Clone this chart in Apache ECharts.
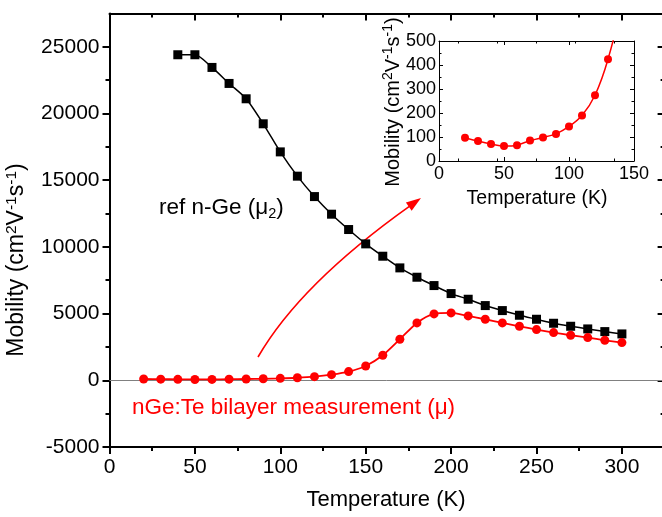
<!DOCTYPE html>
<html><head><meta charset="utf-8">
<script src="https://cdn.jsdelivr.net/npm/echarts@6/dist/echarts.min.js"></script>
<style>html,body{margin:0;padding:0;background:#fff}#c{width:662px;height:517px}</style>
</head><body><div id="c"></div>
<script>
const FONT = "'Liberation Sans', Arial, sans-serif";

// ---- data ----
const temperature = [20,30,40,50,60,70,80,90,100,110,120,130,140,150,160,170,180,190,200,210,220,230,240,250,260,270,280,290,300];
const bilayerMobility = [97,83,71,62,66,85,98,113,144,190,274,424,650,1075,1875,3075,4300,4975,5050,4825,4575,4300,4050,3800,3575,3375,3200,3000,2825];
const refTemperature = [40,50,60,70,80,90,100,110,120,130,140,150,160,170,180,190,200,210,220,230,240,250,260,270,280,290,300];
const refMobility = [24400,24400,23450,22250,21100,19225,17120,15300,13770,12450,11300,10225,9300,8425,7725,7100,6500,6075,5600,5225,4875,4575,4275,4050,3850,3650,3475];

const xMajorTicks = [0,50,100,150,200,250,300];
const xMinorTicks = [25,75,125,175,225,275];
const yMajorTicks = [-5000,0,5000,10000,15000,20000,25000];
const yMinorTicks = [-2500,2500,7500,12500,17500,22500];
const insetXTicks = [0,50,100,150];
const insetYTicks = [0,100,200,300,400,500];

const pairs = (xs, ys) => xs.map((x, i) => [x, ys[i]]);

const chart = echarts.init(document.getElementById('c'), null, {renderer: 'canvas'});

function mkAxis(o) {
  const base = {
    type: 'value', gridIndex: o.grid, position: o.pos, min: o.min, max: o.max,
    axisLine: {show: !!o.line, onZero: false, lineStyle: {color: '#000', width: o.lw}},
    axisTick: {show: true, inside: o.inside, length: o.len, customValues: o.ticks,
               lineStyle: {color: '#000', width: o.tw}},
    axisLabel: o.label ? {show: true, customValues: o.ticks, margin: o.margin,
               fontSize: o.fs, color: '#000', fontFamily: FONT,
               formatter: v => String(v)} : {show: false},
    splitLine: {show: false}, minorSplitLine: {show: false}
  };
  if (o.minor) base.minorTick = {show: true, splitNumber: 2, length: o.minorLen, lineStyle: {color: '#000', width: o.tw}};
  return base;
}

const richMain = {
  n: {fontSize: 23, fontFamily: FONT, lineHeight: 27, fill: '#000'},
  s: {fontSize: 15.5, fontFamily: FONT, lineHeight: 15, verticalAlign: 'top', fill: '#000'}
};
const richInset = {
  n: {fontSize: 20, fontFamily: FONT, lineHeight: 24, fill: '#000'},
  s: {fontSize: 14, fontFamily: FONT, lineHeight: 14, verticalAlign: 'top', fill: '#000'}
};
const mobilityTitle = '{n|Mobility (cm}{s|2}{n|V}{s|-1}{n|s}{s|-1}{n|)}';

// arrow geometry (annotation)
const aS = [258, 357], aC = [300, 284], aE = [421, 198];
const dx = aE[0] - aC[0], dy = aE[1] - aC[1], dl = Math.hypot(dx, dy);
const ux = dx / dl, uy = dy / dl, hl = 15, hw = 5;
const bx = aE[0] - ux * hl, by = aE[1] - uy * hl;

chart.setOption({
  animation: false,
  backgroundColor: '#fff',
  grid: [
    {left: 109.5, top: 13.4, right: -2.6, bottom: 70, outerBoundsMode: 'none', containLabel: false},
    {left: 439, top: 41, width: 195, height: 120, outerBoundsMode: 'none', containLabel: false}
  ],
  xAxis: [
    mkAxis({grid: 0, pos: 'bottom', min: 0, max: 325, line: true, lw: 2, inside: false, len: 7, tw: 2, ticks: xMajorTicks, label: true, margin: 10, fs: 21}),
    mkAxis({grid: 0, pos: 'bottom', min: 0, max: 325, line: false, lw: 2, inside: false, len: 4, tw: 2, ticks: xMinorTicks}),
    mkAxis({grid: 0, pos: 'top', min: 0, max: 325, line: true, lw: 2, inside: true, len: 7, tw: 2, ticks: xMajorTicks}),
    mkAxis({grid: 0, pos: 'top', min: 0, max: 325, line: false, lw: 2, inside: true, len: 4, tw: 2, ticks: xMinorTicks}),
    mkAxis({grid: 1, pos: 'bottom', min: 0, max: 150, line: true, lw: 1, inside: true, len: 4, tw: 1, ticks: insetXTicks, label: true, margin: 4, fs: 18, minor: true, minorLen: 2.5}),
    mkAxis({grid: 1, pos: 'top', min: 0, max: 150, line: true, lw: 1, inside: true, len: 4, tw: 1, ticks: insetXTicks, minor: true, minorLen: 2.5})
  ],
  yAxis: [
    mkAxis({grid: 0, pos: 'left', min: -5000, max: 27500, line: true, lw: 2, inside: false, len: 7, tw: 2, ticks: yMajorTicks, label: true, margin: 10, fs: 21}),
    mkAxis({grid: 0, pos: 'left', min: -5000, max: 27500, line: false, lw: 2, inside: false, len: 4, tw: 2, ticks: yMinorTicks}),
    mkAxis({grid: 0, pos: 'right', min: -5000, max: 27500, line: true, lw: 2, inside: true, len: 7, tw: 2, ticks: yMajorTicks}),
    mkAxis({grid: 0, pos: 'right', min: -5000, max: 27500, line: false, lw: 2, inside: true, len: 4, tw: 2, ticks: yMinorTicks}),
    mkAxis({grid: 1, pos: 'left', min: 0, max: 500, line: true, lw: 1, inside: true, len: 4, tw: 1, ticks: insetYTicks, label: true, margin: 3, fs: 18, minor: true, minorLen: 2.5}),
    mkAxis({grid: 1, pos: 'right', min: 0, max: 500, line: true, lw: 1, inside: true, len: 4, tw: 1, ticks: insetYTicks, minor: true, minorLen: 2.5})
  ],
  series: [
    {
      name: 'ref n-Ge', type: 'line', xAxisIndex: 0, yAxisIndex: 0,
      data: pairs(refTemperature, refMobility), smooth: 0.25,
      symbol: 'rect', symbolSize: 9, z: 4,
      lineStyle: {color: '#000', width: 1.5}, itemStyle: {color: '#000'},
      markLine: {silent: true, symbol: 'none', label: {show: false}, animation: false,
        lineStyle: {color: '#808080', width: 1, type: 'solid'}, data: [{yAxis: 0}]}
    },
    {
      name: 'nGe:Te bilayer', type: 'line', xAxisIndex: 0, yAxisIndex: 0,
      data: pairs(temperature, bilayerMobility), smooth: 0.25,
      symbol: 'circle', symbolSize: 9, z: 5,
      lineStyle: {color: '#ff0000', width: 1.8}, itemStyle: {color: '#ff0000'}
    },
    {
      name: 'inset', type: 'line', xAxisIndex: 4, yAxisIndex: 4, clip: true,
      data: pairs(temperature, bilayerMobility), smooth: 0.25,
      symbol: 'circle', symbolSize: 8, z: 5,
      lineStyle: {color: '#ff0000', width: 1.5}, itemStyle: {color: '#ff0000'}
    }
  ],
  graphic: [
    {type: 'bezierCurve', z: 1, shape: {x1: aS[0], y1: aS[1], cpx1: aC[0], cpy1: aC[1], x2: bx + ux * 2, y2: by + uy * 2},
     style: {stroke: '#ff0000', lineWidth: 1.6, fill: null}},
    {type: 'polygon', z: 1, shape: {points: [[aE[0], aE[1]], [bx - uy * hw, by + ux * hw], [bx + uy * hw, by - ux * hw]]},
     style: {fill: '#ff0000'}},
    {type: 'text', z: 10, x: 17, y: 260, rotation: Math.PI / 2,
     style: {text: mobilityTitle, rich: richMain, align: 'center', verticalAlign: 'middle', fill: '#000'}},
    {type: 'text', z: 10, x: 386, y: 500,
     style: {text: 'Temperature (K)', fontSize: 22, fontFamily: FONT, fill: '#000', align: 'center', verticalAlign: 'middle'}},
    {type: 'text', z: 10, x: 393, y: 102, rotation: Math.PI / 2,
     style: {text: mobilityTitle, rich: richInset, align: 'center', verticalAlign: 'middle', fill: '#000'}},
    {type: 'text', z: 10, x: 537, y: 199,
     style: {text: 'Temperature (K)', fontSize: 19.5, fontFamily: FONT, fill: '#000', align: 'center', verticalAlign: 'middle'}},
    {type: 'text', z: 10, x: 159, y: 208,
     style: {text: '{n|ref n-Ge (μ}{b|2}{n|)}', align: 'left', verticalAlign: 'middle',
       rich: {n: {fontSize: 22.5, fontFamily: FONT, lineHeight: 26, fill: '#000'},
              b: {fontSize: 14.5, fontFamily: FONT, lineHeight: 14, verticalAlign: 'bottom', fill: '#000'}}}},
    {type: 'text', z: 10, x: 132, y: 408,
     style: {text: 'nGe:Te bilayer measurement (μ)', fontSize: 22.5, fontFamily: FONT, fill: '#ff0000', align: 'left', verticalAlign: 'middle'}}
  ]
});
</script></body></html>
